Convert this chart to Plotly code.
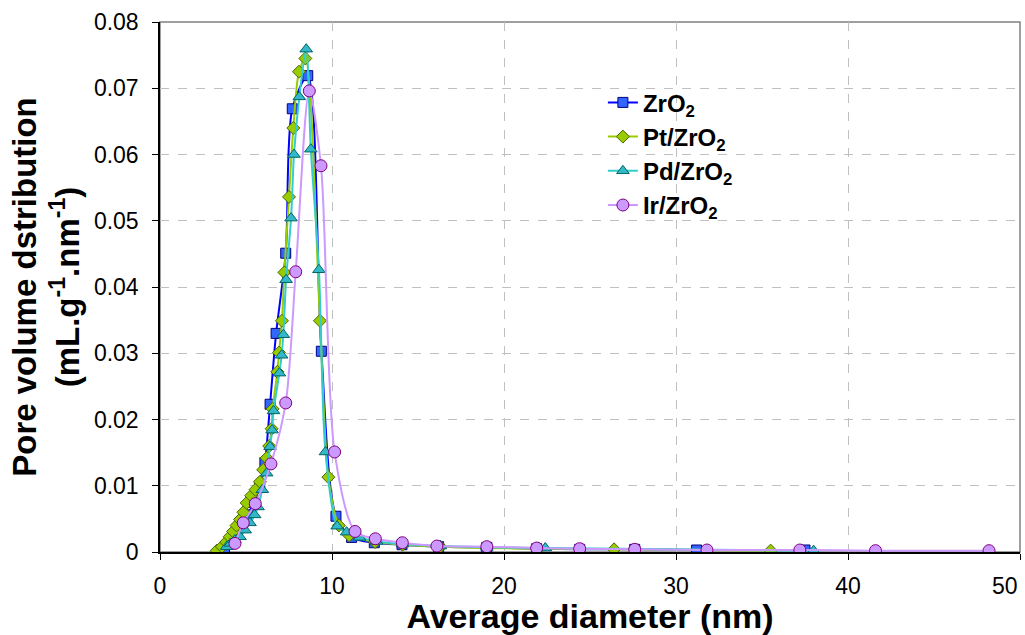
import plotly.graph_objects as go

# ---- data ----
zro2_x = [3.75, 4.0, 4.25, 4.5, 4.8, 5.1, 5.45, 5.8, 6.1, 6.4, 6.75, 7.31, 7.69, 8.59, 9.38, 10.23, 11.14, 12.46, 14.07, 16.2, 19.0, 21.9, 24.4, 27.6, 31.2, 37.5]
zro2_y = [0.0004, 0.0012, 0.002, 0.003, 0.0042, 0.0056, 0.0075, 0.0098, 0.0135, 0.0223, 0.0330, 0.0451, 0.0669, 0.0719, 0.0303, 0.0054, 0.0022, 0.0014, 0.0011, 0.0008, 0.0007, 0.0005, 0.0004, 0.0004, 0.0003, 0.0003]

pt_x = [3.3, 3.6, 3.85, 4.05, 4.25, 4.45, 4.65, 4.85, 5.04, 5.3, 5.55, 5.81, 6.0, 6.2, 6.35, 6.49, 6.55, 6.82, 6.92, 7.09, 7.23, 7.5, 7.75, 8.08, 8.45, 9.3, 9.79, 10.4, 11.0, 12.5, 14.1, 16.3, 19.0, 22.0, 26.4, 35.5]
pt_y = [0.0002, 0.0008, 0.0015, 0.0023, 0.0031, 0.0040, 0.0049, 0.0060, 0.0074, 0.0085, 0.0094, 0.0106, 0.0124, 0.0142, 0.0160, 0.0186, 0.0216, 0.0272, 0.0301, 0.0349, 0.0422, 0.0536, 0.0640, 0.0725, 0.0745, 0.0349, 0.0113, 0.0040, 0.0025, 0.0015, 0.0011, 0.0008, 0.0006, 0.0005, 0.0004, 0.0002]

pd_x = [3.88, 4.1, 4.35, 4.65, 4.95, 5.23, 5.5, 5.7, 5.95, 6.2, 6.4, 6.52, 6.6, 6.94, 7.07, 7.17, 7.33, 7.62, 7.79, 8.1, 8.5, 8.77, 9.24, 9.62, 10.3, 10.85, 11.6, 12.6, 14.1, 16.3, 19.0, 22.4, 38.0]
pd_y = [0.0008, 0.0013, 0.0018, 0.0023, 0.0033, 0.0044, 0.0056, 0.0068, 0.0094, 0.0119, 0.0159, 0.0184, 0.0213, 0.0270, 0.0297, 0.0328, 0.0411, 0.0504, 0.0600, 0.0687, 0.0759, 0.0608, 0.0426, 0.0151, 0.0039, 0.0030, 0.0022, 0.0016, 0.0012, 0.0009, 0.0007, 0.0006, 0.0002]

ir_x = [4.36, 4.84, 5.54, 6.45, 7.31, 7.89, 8.68, 9.36, 10.15, 11.34, 12.52, 14.09, 16.1, 19.0, 21.9, 24.4, 27.6, 31.8, 37.2, 41.6, 48.2]
ir_y = [0.0013, 0.0044, 0.0073, 0.0133, 0.0225, 0.0423, 0.0696, 0.0583, 0.0151, 0.0031, 0.0020, 0.0014, 0.0009, 0.0008, 0.0006, 0.0005, 0.0004, 0.0003, 0.0003, 0.0002, 0.0002]

names = ["<b>ZrO<sub>2</sub></b>", "<b>Pt/ZrO<sub>2</sub></b>", "<b>Pd/ZrO<sub>2</sub></b>", "<b>Ir/ZrO<sub>2</sub></b>"]
x_ticks = [0, 10, 20, 30, 40, 50]
x_tick_labels = ["0", "10", "20", "30", "40", "50"]
y_ticks = [0, 0.01, 0.02, 0.03, 0.04, 0.05, 0.06, 0.07, 0.08]
y_tick_labels = ["0", "0.01", "0.02", "0.03", "0.04", "0.05", "0.06", "0.07", "0.08"]

styles = [
    dict(line="#0000FF", fill="#3366FF", edge="#000080", symbol="square", size=10),
    dict(line="#99CC00", fill="#99CC00", edge="#4D6600", symbol="diamond", size=10),
    dict(line="#33CCCC", fill="#33B8C8", edge="#006666", symbol="triangle-up", size=11),
    dict(line="#CC99FF", fill="#CC99FF", edge="#800080", symbol="circle", size=12),
]

fig = go.Figure()
for (xs, ys), nm, st in zip([(zro2_x, zro2_y), (pt_x, pt_y), (pd_x, pd_y), (ir_x, ir_y)], names, styles):
    fig.add_trace(go.Scatter(
        x=xs, y=ys, name=nm, mode="lines+markers",
        line=dict(color=st["line"], width=2, shape="spline", smoothing=0.8),
        marker=dict(symbol=st["symbol"], size=st["size"], color=st["fill"],
                    line=dict(color=st["edge"], width=1)),
    ))

font_family = "Liberation Sans, Arial, sans-serif"

# the last x tick label sits inside the right edge (as in the reference)
shown_labels = x_tick_labels[:-1]

fig.update_layout(
    width=1025, height=635,
    margin=dict(l=160, r=5, t=22, b=83),
    paper_bgcolor="white", plot_bgcolor="white",
    font=dict(family=font_family, color="black"),
    showlegend=True,
    legend=dict(x=0.515, y=0.89, xanchor="left", yanchor="top",
                bgcolor="rgba(0,0,0,0)", font=dict(size=24, family=font_family, color="black"),
                itemwidth=30, tracegroupgap=0),
    xaxis=dict(
        range=[0, 50], tickvals=x_ticks, ticktext=shown_labels + [""],
        showline=True, linecolor="black", linewidth=1.5,
        ticks="outside", ticklen=6, tickcolor="black",
        showgrid=True, gridcolor="#C0C0C0", griddash="dash", gridwidth=1,
        zeroline=False, automargin=False, ticklabelstandoff=7,
        tickfont=dict(size=23, family=font_family),
        title=dict(text="<b>Average diameter (nm)</b>", font=dict(size=34, family=font_family), standoff=2),
    ),
    yaxis=dict(
        range=[0, 0.08], tickvals=y_ticks, ticktext=y_tick_labels,
        showline=True, linecolor="black", linewidth=1.5,
        ticks="outside", ticklen=6, tickcolor="black",
        showgrid=True, gridcolor="#C0C0C0", griddash="dash", gridwidth=1,
        zeroline=False, automargin=False, ticklabelstandoff=9,
        tickfont=dict(size=23, family=font_family),
        title=dict(text="<b>Pore volume dstribution<br>(mL.g<sup>-1</sup>.nm<sup>-1</sup>)</b>",
                   font=dict(size=33, family=font_family), standoff=4),
    ),
    shapes=[dict(type="rect", xref="paper", yref="paper", x0=0, y0=0, x1=1, y1=1,
                 line=dict(color="#808080", width=1.5), layer="below")],
    annotations=[dict(x=x_ticks[-1], xref="x", y=0, yref="paper", text=x_tick_labels[-1],
                      showarrow=False, xanchor="right", yanchor="top", yshift=-19,
                      font=dict(size=23, family=font_family, color="black"))],
)

fig.write_html("out.html", config={"displayModeBar": False},
               post_script="document.body.style.margin='0';")
